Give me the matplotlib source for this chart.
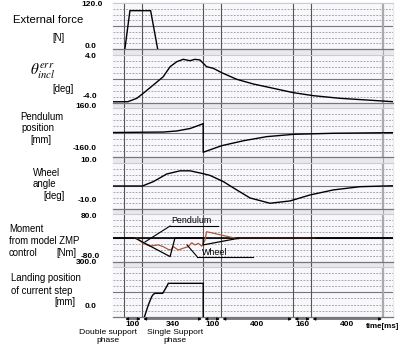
import matplotlib
matplotlib.use('Agg')
import matplotlib.pyplot as plt
from matplotlib.transforms import blended_transform_factory
from matplotlib.lines import Line2D
from matplotlib.patches import Rectangle

plt.rcParams['font.family'] = ['Liberation Sans', 'DejaVu Sans']
plt.rcParams['mathtext.fontset'] = 'stix'

# --- data (time in ms, values in panel units) ---
phase_bounds = [0, 100, 440, 540, 940, 1040, 1440]
phase_labels = ['100', '340', '100', '400', '160', '400']

force_t = [5, 33, 148, 187]
force_v = [0, 100, 100, 0]

theta_t = [-61, 22, 71, 107, 163, 218, 256, 293, 329, 367, 394, 422, 459, 496,
           543, 626, 718, 829, 941, 1052, 1200, 1348, 1494]
theta_v = [-3.8, -3.78, -3.22, -2.38, -1.0, 0.38, 2.05, 2.88, 3.28, 3.05, 3.28,
           3.17, 2.05, 1.78, 1.05, -0.05, -0.83, -1.55, -2.28, -2.78, -3.22, -3.5, -3.78]

pend_t = [-61, 218, 293, 367, 432, 440, 440, 543, 663, 793, 941, 1163, 1494]
pend_v = [0, 3, 10, 26, 54, 58, -129, -86, -54, -27, -12, -5, -1]

wheel_t = [-61, 102, 163, 237, 311, 367, 432, 478, 552, 626, 700, 811, 922,
           1033, 1163, 1311, 1494]
wheel_v = [0, 0, 1.9, 5.2, 6.6, 6.6, 5.5, 4.6, 1.9, -1.7, -5.2, -7.5, -6.5,
           -3.9, -1.7, -0.3, 0.1]

pmom_t = [-61, 61, 256, 283, 440, 440, 644, 1494]
pmom_v = [0, 0, -62, 0, 0, -23, 0, 0]

wmom_t = [61, 71, 107, 144, 191, 218, 246, 261, 274, 302, 329, 357, 376, 394,
          413, 432, 450, 459, 635, 650, 1060]
wmom_v = [0, -1, -18, -27, -23, -29, -38, -40, -29, -40, -34, -29, -16, -23,
          -18, -27, -7, 21, -3, 0, 0]

land_t = [113, 117, 135, 154, 163, 172, 215, 237, 246, 440, 440]
land_v = [0, 12, 72, 122, 136, 142, 142, 182, 202, 202, 0]

ylims = [(0, 120), (-4, 4), (-160, 160), (-10, 10), (-80, 80), (0, 300)]
ytick_text = [('120.0', '0.0'), ('4.0', '-4.0'), ('160.0', '-160.0'),
              ('10.0', '-10.0'), ('80.0', '-80.0'), ('300.0', '0.0')]

# --- layout (pixels) ---
W, H = 402, 345
fig = plt.figure(figsize=(W / 100, H / 100), dpi=100)

def fx(x):
    return x / W

def fy(y):
    return 1 - y / H

panel_px = [(3, 49), (55, 103), (108, 157), (163, 209), (214, 262), (267, 317)]
left, right = 113, 393
t_lo, t_hi = -61, 1494

fig.add_artist(Rectangle((fx(left), fy(317)), (right - left) / W, (317 - 3) / H,
                         transform=fig.transFigure, color='#e8e8ee', zorder=-2))

axes = []
for (top, bot), (lo, hi) in zip(panel_px, ylims):
    ax = fig.add_axes([fx(left), fy(bot), (right - left) / W, (bot - top) / H])
    ax.set_xlim(t_lo, t_hi)
    ax.set_ylim(lo, hi)
    ax.set_facecolor('#f8f8fc')
    ax.set_xticks([])
    ax.set_yticks([])
    for s in ax.spines.values():
        s.set_visible(False)
    ax.spines['bottom'].set_visible(True)
    ax.spines['bottom'].set_color('#777777')
    ax.spines['bottom'].set_linewidth(0.9)
    ax.spines['top'].set_visible(True)
    ax.spines['top'].set_color('#cccccc')
    ax.spines['top'].set_linewidth(0.8)
    step = (hi - lo) / 8
    for k in range(1, 8):
        if k == 4:
            ax.axhline(lo + k * step, color='#777777', lw=0.8, zorder=1)
        else:
            ax.axhline(lo + k * step, color='#999999', lw=0.6,
                       ls=(0, (2.2, 1.6)), zorder=1)
    for b in phase_bounds[:-1]:
        ax.axvline(b, color='#555555', lw=0.8, zorder=1)
    ax.axvline(phase_bounds[-1], color='#aaaaaa', lw=1.6, zorder=1)
    axes.append(ax)

# vertical lines through the gaps
trans = blended_transform_factory(axes[-1].transData, fig.transFigure)
for b in phase_bounds:
    col = '#aaaaaa' if b == phase_bounds[-1] else '#555555'
    fig.add_artist(Line2D([b, b], [fy(317), fy(3)], transform=trans,
                          color=col, lw=0.8, zorder=-1))

axes[0].plot(force_t, force_v, color='black', lw=1.0, zorder=3)
axes[1].plot(theta_t, theta_v, color='black', lw=1.0, zorder=3)
axes[2].plot(pend_t, pend_v, color='black', lw=1.0, zorder=3)
axes[3].plot(wheel_t, wheel_v, color='black', lw=1.0, zorder=3)

ax5 = axes[4]
ax5.axhline(0, color='black', lw=1.2, zorder=2)
ax5.plot(wmom_t, wmom_v, color='#b0583a', lw=0.9, zorder=3)
ax5.plot(pmom_t, pmom_v, color='black', lw=0.9, zorder=4)
ax5.plot([256, 522], [40, 40], color='black', lw=0.8, zorder=4)
ax5.plot([256, 117], [40, -13], color='black', lw=0.8, zorder=4)
ax5.text(372, 57, 'Pendulum', fontsize=6.4, ha='center', va='center', zorder=5)
ax5.plot([406, 717], [-62, -62], color='black', lw=0.8, zorder=4)
ax5.plot([406, 350], [-62, -23], color='black', lw=0.8, zorder=4)
ax5.text(506, -47, 'Wheel', fontsize=6.4, ha='center', va='center', zorder=5)

axes[5].plot(land_t, land_v, color='black', lw=1.0, zorder=3)

# y tick texts
top_y = [5, 56, 107, 160, 217, 263]
bot_y = [47, 97, 148, 201, 256, 306]
top_x = [103, 97, 97, 97, 97, 97]
bot_x = [97, 97, 97, 97, 100, 97]
for (tt, bt), ty, by, tx, bx in zip(ytick_text, top_y, bot_y, top_x, bot_x):
    fig.text(fx(tx), fy(ty), tt, fontsize=6, fontweight='bold', ha='right', va='center')
    fig.text(fx(bx), fy(by), bt, fontsize=6, fontweight='bold', ha='right', va='center')

# panel titles
fig.text(fx(13), fy(20), 'External force', fontsize=8.2, ha='left', va='center')
fig.text(fx(59), fy(38), '[N]', fontsize=6.9, ha='center', va='center')
fig.text(fx(43), fy(71), r'$\theta^{err}_{incl}$', fontsize=11, ha='center', va='center')
fig.text(fx(63), fy(89), '[deg]', fontsize=6.9, ha='center', va='center')

side_labels = [('Pendulum', 42, 117, 'center'), ('position', 38, 128, 'center'),
               ('[mm]', 41, 140, 'center'),
               ('Wheel', 47, 173, 'center'), ('angle', 44, 184, 'center'),
               ('[deg]', 54, 196, 'center'),
               ('Moment', 9, 229, 'left'), ('from model ZMP', 9, 241, 'left'),
               ('control', 9, 253, 'left'), ('[Nm]', 66, 253, 'center'),
               ('Landing position', 11, 278, 'left'), ('of current step', 11, 291, 'left'),
               ('[mm]', 65, 302, 'center')]
for txt, x, y, ha in side_labels:
    fig.text(fx(x), fy(y), txt, fontsize=6.9, ha=ha, va='center')

# phase arrows under the time axis
for t0, t1, lab in zip(phase_bounds[:-1], phase_bounds[1:], phase_labels):
    axes[-1].annotate('', xy=(t1, fy(319)), xytext=(t0, fy(319)), xycoords=trans,
                      textcoords=trans, annotation_clip=False,
                      arrowprops=dict(arrowstyle='<|-|>', lw=0.7, color='black',
                                      mutation_scale=4, shrinkA=1, shrinkB=1))
    fig.text((t0 + t1) / 2, fy(325), lab, transform=trans, fontsize=6,
             fontweight='bold', ha='center', va='center')

fig.text(fx(366), fy(326), 'time[ms]', fontsize=5.8, fontweight='bold', ha='left', va='center')
phase_names = [('Double support', 108), ('Single Support', 175)]
for name, x in phase_names:
    fig.text(fx(x), fy(333), name, fontsize=6.1, ha='center', va='center')
    fig.text(fx(x), fy(340.5), 'phase', fontsize=6.1, ha='center', va='center')

fig.savefig('out.png', dpi=100)
